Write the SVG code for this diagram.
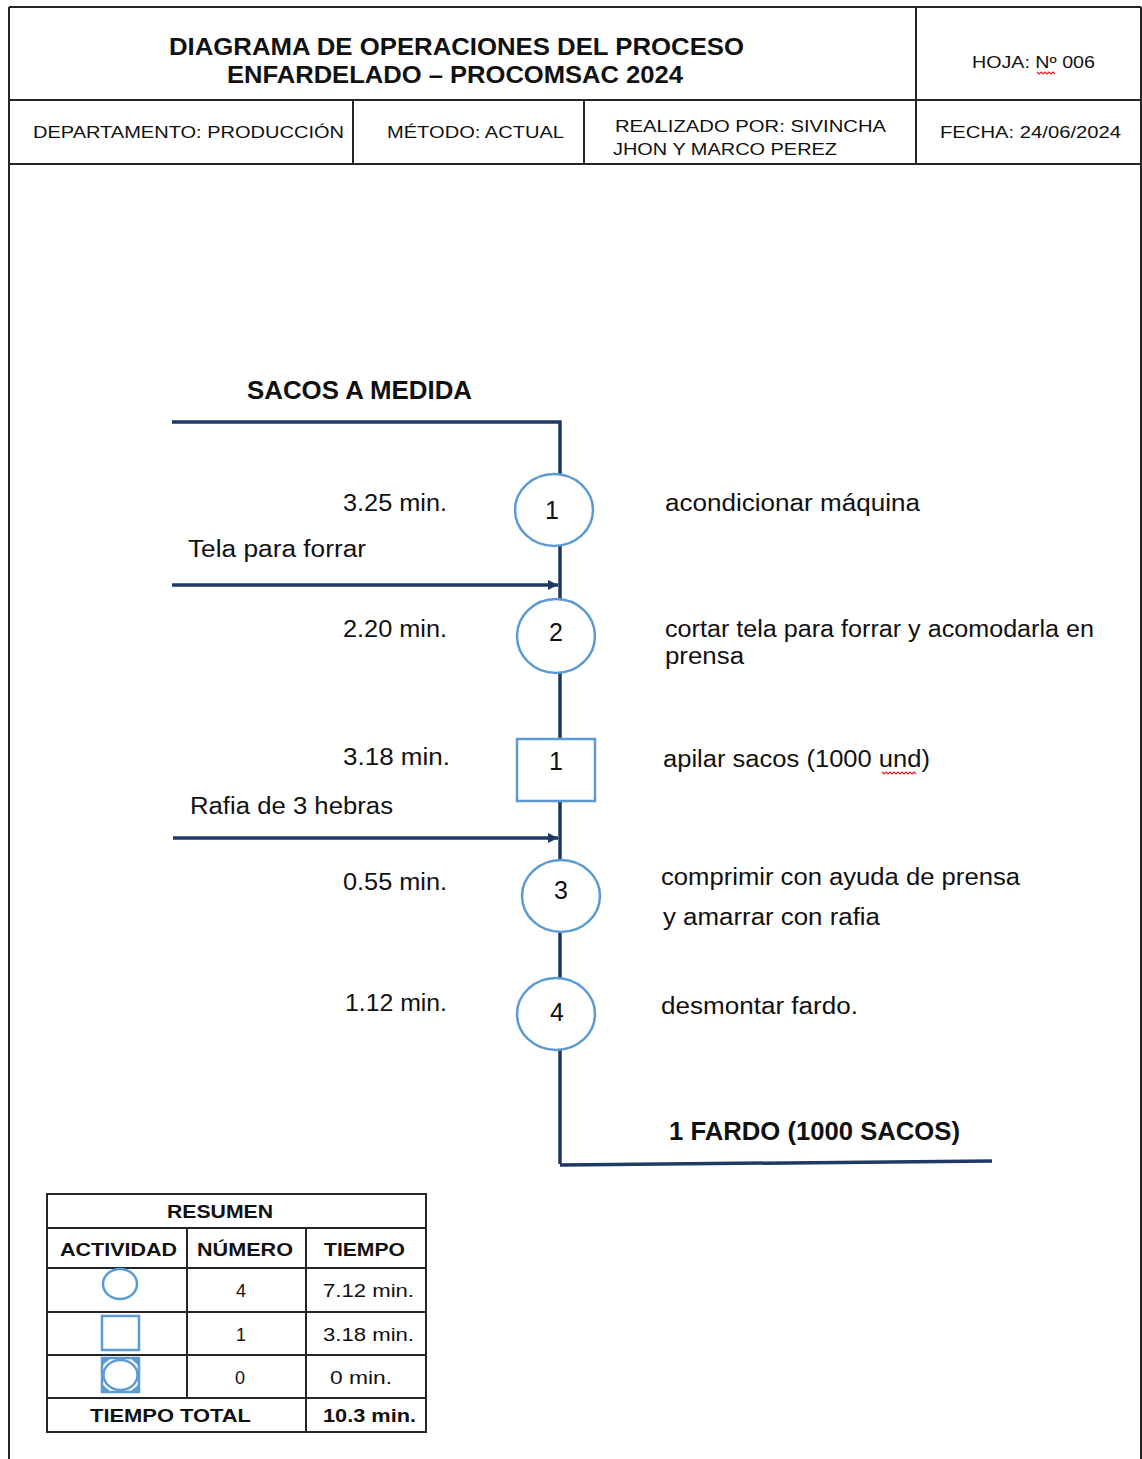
<svg xmlns="http://www.w3.org/2000/svg" width="1142" height="1459" viewBox="0 0 1142 1459">
<defs>
<style>
.frame{fill:none;stroke:#262626;stroke-width:2}
.flow{fill:none;stroke:#1f3864;stroke-width:3.5}
.op{fill:#ffffff;stroke:#5b9bd5;stroke-width:2.5}
.ico{fill:none;stroke:#5b9bd5;stroke-width:2.5}
.t{font-family:"Liberation Sans",Arial,sans-serif;fill:#111111}
.hb{font-size:24px;font-weight:bold}
.hs{font-size:16px}
.body{font-size:23px}
.big{font-size:25px;font-weight:bold}
.num{font-size:25px}
.tb{font-size:18px;font-weight:bold}
.tn{font-size:18px}
.squig{fill:none;stroke:#e02020;stroke-width:1.2}
</style>
<marker id="arr" viewBox="0 0 10 10" refX="10" refY="5" markerWidth="12" markerHeight="10" markerUnits="userSpaceOnUse" orient="auto">
<path d="M0,0 L10,5 L0,10 z" fill="#1f3864"/>
</marker>
</defs>
<rect x="0" y="0" width="1142" height="1459" fill="#ffffff"/>

<g id="header">
<line class="frame" x1="9" y1="7" x2="1141" y2="7"/>
<line class="frame" x1="9" y1="7" x2="9" y2="1459"/>
<line class="frame" x1="1141" y1="7" x2="1141" y2="1459"/>
<line class="frame" x1="9" y1="100" x2="1141" y2="100"/>
<line class="frame" x1="9" y1="164" x2="1141" y2="164"/>
<line class="frame" x1="916" y1="7" x2="916" y2="164"/>
<line class="frame" x1="353" y1="100" x2="353" y2="164"/>
<line class="frame" x1="584" y1="100" x2="584" y2="164"/>
<text class="t hb" x="169" y="55" textLength="575" lengthAdjust="spacingAndGlyphs">DIAGRAMA DE OPERACIONES DEL PROCESO</text>
<text class="t hb" x="227" y="83" textLength="456" lengthAdjust="spacingAndGlyphs">ENFARDELADO – PROCOMSAC 2024</text>
<text class="t hs" x="972" y="68" textLength="123" lengthAdjust="spacingAndGlyphs">HOJA: Nº 006</text>
<path class="squig" d="M1037,72 l2,2 l2,-2 l2,2 l2,-2 l2,2 l2,-2 l2,2 l2,-2 l2,2"/>
<text class="t hs" x="33" y="138" textLength="311" lengthAdjust="spacingAndGlyphs">DEPARTAMENTO: PRODUCCIÓN</text>
<text class="t hs" x="387" y="138" textLength="177" lengthAdjust="spacingAndGlyphs">MÉTODO: ACTUAL</text>
<text class="t hs" x="615" y="132" textLength="271" lengthAdjust="spacingAndGlyphs">REALIZADO POR: SIVINCHA</text>
<text class="t hs" x="613" y="155" textLength="224" lengthAdjust="spacingAndGlyphs">JHON Y MARCO PEREZ</text>
<text class="t hs" x="940" y="138" textLength="181" lengthAdjust="spacingAndGlyphs">FECHA: 24/06/2024</text>
</g>

<g id="connectors">
<polyline class="flow" points="172,422 560,422 560,1164"/>
<line class="flow" x1="560" y1="1165" x2="992" y2="1161"/>
<line class="flow" x1="172" y1="585" x2="558" y2="585" marker-end="url(#arr)"/>
<line class="flow" x1="173" y1="838" x2="558" y2="838" marker-end="url(#arr)"/>
</g>

<g id="labels">
<text class="t big" x="247" y="399" textLength="225" lengthAdjust="spacingAndGlyphs">SACOS A MEDIDA</text>
<text class="t body" x="188" y="557" textLength="178" lengthAdjust="spacingAndGlyphs">Tela para forrar</text>
<text class="t body" x="190" y="814" textLength="203" lengthAdjust="spacingAndGlyphs">Rafia de 3 hebras</text>
<text class="t big" x="669" y="1140" textLength="291" lengthAdjust="spacingAndGlyphs">1 FARDO (1000 SACOS)</text>
</g>

<g id="op1">
<ellipse class="op" cx="554" cy="510" rx="39" ry="36"/>
<text class="t num" x="552" y="519" text-anchor="middle">1</text>
<text class="t body" x="343" y="511" textLength="104" lengthAdjust="spacingAndGlyphs">3.25 min.</text>
<text class="t body" x="665" y="511" textLength="255" lengthAdjust="spacingAndGlyphs">acondicionar máquina</text>
</g>

<g id="op2">
<ellipse class="op" cx="556" cy="636" rx="39" ry="37"/>
<text class="t num" x="556" y="641" text-anchor="middle">2</text>
<text class="t body" x="343" y="637" textLength="104" lengthAdjust="spacingAndGlyphs">2.20 min.</text>
<text class="t body" x="665" y="637" textLength="429" lengthAdjust="spacingAndGlyphs">cortar tela para forrar y acomodarla en</text>
<text class="t body" x="665" y="664" textLength="79" lengthAdjust="spacingAndGlyphs">prensa</text>
</g>

<g id="insp1">
<rect class="op" x="517" y="739" width="78" height="62"/>
<text class="t num" x="556" y="770" text-anchor="middle">1</text>
<text class="t body" x="343" y="765" textLength="107" lengthAdjust="spacingAndGlyphs">3.18 min.</text>
<text class="t body" x="663" y="767" textLength="267" lengthAdjust="spacingAndGlyphs">apilar sacos (1000 und)</text>
<path class="squig" d="M882,772 l2,2 l2,-2 l2,2 l2,-2 l2,2 l2,-2 l2,2 l2,-2 l2,2 l2,-2 l2,2 l2,-2 l2,2 l2,-2 l2,2 l2,-2 l2,2"/>
</g>

<g id="op3">
<ellipse class="op" cx="561" cy="896" rx="39" ry="36"/>
<text class="t num" x="561" y="899" text-anchor="middle">3</text>
<text class="t body" x="343" y="890" textLength="104" lengthAdjust="spacingAndGlyphs">0.55 min.</text>
<text class="t body" x="661" y="885" textLength="359" lengthAdjust="spacingAndGlyphs">comprimir con ayuda de prensa</text>
<text class="t body" x="663" y="925" textLength="217" lengthAdjust="spacingAndGlyphs">y amarrar con rafia</text>
</g>

<g id="op4">
<ellipse class="op" cx="556" cy="1014" rx="39" ry="36"/>
<text class="t num" x="557" y="1021" text-anchor="middle">4</text>
<text class="t body" x="345" y="1011" textLength="102" lengthAdjust="spacingAndGlyphs">1.12 min.</text>
<text class="t body" x="661" y="1014" textLength="197" lengthAdjust="spacingAndGlyphs">desmontar fardo.</text>
</g>

<g id="resumen">
<rect class="frame" x="47" y="1194" width="379" height="238"/>
<line class="frame" x1="47" y1="1228" x2="426" y2="1228"/>
<line class="frame" x1="47" y1="1268" x2="426" y2="1268"/>
<line class="frame" x1="47" y1="1312" x2="426" y2="1312"/>
<line class="frame" x1="47" y1="1355" x2="426" y2="1355"/>
<line class="frame" x1="47" y1="1398" x2="426" y2="1398"/>
<line class="frame" x1="187" y1="1228" x2="187" y2="1398"/>
<line class="frame" x1="306" y1="1228" x2="306" y2="1432"/>
<text class="t tb" x="167" y="1218" textLength="106" lengthAdjust="spacingAndGlyphs">RESUMEN</text>
<text class="t tb" x="60" y="1256" textLength="117" lengthAdjust="spacingAndGlyphs">ACTIVIDAD</text>
<text class="t tb" x="197" y="1256" textLength="96" lengthAdjust="spacingAndGlyphs">NÚMERO</text>
<text class="t tb" x="324" y="1256" textLength="81" lengthAdjust="spacingAndGlyphs">TIEMPO</text>
<ellipse class="ico" cx="120" cy="1284" rx="17" ry="15"/>
<rect class="ico" x="102" y="1316" width="37" height="34"/>
<rect class="ico" x="102" y="1358" width="37" height="34"/>
<ellipse class="ico" cx="120.5" cy="1375" rx="17" ry="15"/>
<path d="M103,1359 h7 l-7,6 z M138,1359 h-7 l7,6 z M103,1391 h7 l-7,-6 z M138,1391 h-7 l7,-6 z" fill="#5b9bd5"/>
<text class="t tn" x="241" y="1297" text-anchor="middle">4</text>
<text class="t tn" x="323" y="1297" textLength="91" lengthAdjust="spacingAndGlyphs">7.12 min.</text>
<text class="t tn" x="241" y="1341" text-anchor="middle">1</text>
<text class="t tn" x="323" y="1341" textLength="91" lengthAdjust="spacingAndGlyphs">3.18 min.</text>
<text class="t tn" x="240" y="1384" text-anchor="middle">0</text>
<text class="t tn" x="330" y="1384" textLength="62" lengthAdjust="spacingAndGlyphs">0 min.</text>
<text class="t tb" x="90" y="1422" textLength="161" lengthAdjust="spacingAndGlyphs">TIEMPO TOTAL</text>
<text class="t tb" x="323" y="1422" textLength="93" lengthAdjust="spacingAndGlyphs">10.3 min.</text>
</g>
</svg>
